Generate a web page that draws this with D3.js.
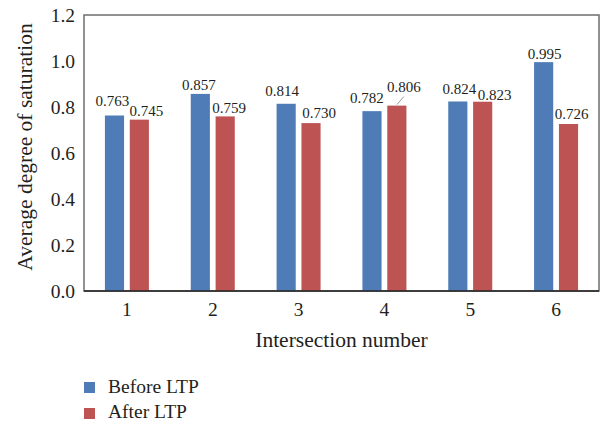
<!DOCTYPE html>
<html>
<head>
<meta charset="utf-8">
<script src="https://cdn.jsdelivr.net/npm/d3@7"></script>
<style>
  html, body { margin: 0; padding: 0; background: #fff; }
  svg { display: block; }
  text { font-family: "Liberation Serif", "Times New Roman", serif; fill: #231f20; }
</style>
</head>
<body>
<svg id="chart" width="605" height="425"></svg>
<script>
// ---- data ----
const categories = ["1", "2", "3", "4", "5", "6"];
const beforeLTP = [0.763, 0.857, 0.814, 0.782, 0.824, 0.995];
const afterLTP  = [0.745, 0.759, 0.730, 0.806, 0.823, 0.726];
const seriesNames = ["Before LTP", "After LTP"];
const yTicks = [0, 0.2, 0.4, 0.6, 0.8, 1.0, 1.2];

// ---- layout (label nudges in px, [dx, dy] from bar top-centre) ----
const beforeNudge = [[-2, -10], [-1.5, -4], [-4, -8], [-5, -8], [1.5, -7], [1, -3]];
const afterNudge  = [[7, -3.5], [4, -3.5], [8, -5], [7, -14], [12, -2], [3, -5]];

const colors = ["#4f7cb7", "#bd5353"];
const margin = { left: 84, right: 6, top: 15, bottom: 134 };
const W = 605, H = 425;
const svg = d3.select("#chart");

const x = d3.scaleBand().domain(categories).range([margin.left, W - margin.right]).padding(0);
const y = d3.scaleLinear().domain([0, 1.2]).range([H - margin.bottom, margin.top]);
const x1 = d3.scaleBand().domain(seriesNames).range([-22, 22]).paddingInner(0.23);

const plotL = margin.left, plotR = W - margin.right, plotT = margin.top, plotB = H - margin.bottom;

// frame
svg.append("rect")
  .attr("x", plotL).attr("y", plotT)
  .attr("width", plotR - plotL).attr("height", plotB - plotT)
  .attr("fill", "none").attr("stroke", "#6d6d6d").attr("stroke-width", 1.5);

const data = categories.map((c, i) => ({ c, vals: [beforeLTP[i], afterLTP[i]] }));
const nudges = [beforeNudge, afterNudge];

const groups = svg.append("g").selectAll("g").data(data).join("g")
  .attr("transform", d => `translate(${x(d.c) + x.bandwidth() / 2},0)`);

groups.selectAll("rect").data(d => d.vals.map((v, k) => ({ v, k }))).join("rect")
  .attr("x", d => x1(seriesNames[d.k]))
  .attr("width", x1.bandwidth())
  .attr("y", d => y(d.v))
  .attr("height", d => y(0) - y(d.v))
  .attr("fill", d => colors[d.k]);

groups.each(function (d, i) {
  const g = d3.select(this);
  d.vals.forEach((v, k) => {
    const cx = x1(seriesNames[k]) + x1.bandwidth() / 2;
    const [dx, dy] = nudges[k][i];
    g.append("text")
      .attr("x", cx + dx).attr("y", y(v) + dy)
      .attr("text-anchor", "middle")
      .attr("font-size", 15)
      .text(v.toFixed(3));
  });
});

// leader line for label 0.806 (category 4, After LTP)
{
  const i = 3, k = 1;
  const cx = x(categories[i]) + x.bandwidth() / 2 + x1(seriesNames[k]) + x1.bandwidth() / 2;
  svg.append("line")
    .attr("x1", cx).attr("y1", y(afterLTP[i]) - 1)
    .attr("x2", cx + 7).attr("y2", y(afterLTP[i]) - 9)
    .attr("stroke", "#999").attr("stroke-width", 1);
}

// bottom axis line
svg.append("line")
  .attr("x1", plotL).attr("x2", plotR).attr("y1", plotB).attr("y2", plotB)
  .attr("stroke", "#222").attr("stroke-width", 1.5);

// y axis
const yAxis = d3.axisLeft(y).tickValues(yTicks).tickFormat(d3.format(".1f")).tickSize(0).tickPadding(9);
const gy = svg.append("g").attr("transform", `translate(${plotL},0)`).call(yAxis);
gy.select(".domain").remove();
gy.selectAll("text").attr("font-size", 19.5).attr("font-family", "Liberation Serif").attr("fill", "#231f20");

// x axis
const xAxis = d3.axisBottom(x).tickSize(0).tickPadding(11);
const gx = svg.append("g").attr("transform", `translate(0,${plotB})`).call(xAxis);
gx.select(".domain").remove();
gx.selectAll("text").attr("font-size", 19.5).attr("font-family", "Liberation Serif").attr("fill", "#231f20");

// axis titles
svg.append("text")
  .attr("x", (plotL + plotR) / 2).attr("y", 347)
  .attr("text-anchor", "middle").attr("font-size", 21.5)
  .text("Intersection number");

svg.append("text")
  .attr("transform", `translate(32,${(plotT + plotB) / 2 - 6}) rotate(-90)`)
  .attr("text-anchor", "middle").attr("font-size", 21.5)
  .text("Average degree of saturation");

// legend
const legY = [382, 408];
const legBase = [393, 418];
seriesNames.forEach((name, k) => {
  svg.append("rect").attr("x", 84).attr("y", legY[k]).attr("width", 11).attr("height", 11).attr("fill", colors[k]);
  svg.append("text").attr("x", 108).attr("y", legBase[k]).attr("font-size", 19.5).text(name);
});
</script>
</body>
</html>
